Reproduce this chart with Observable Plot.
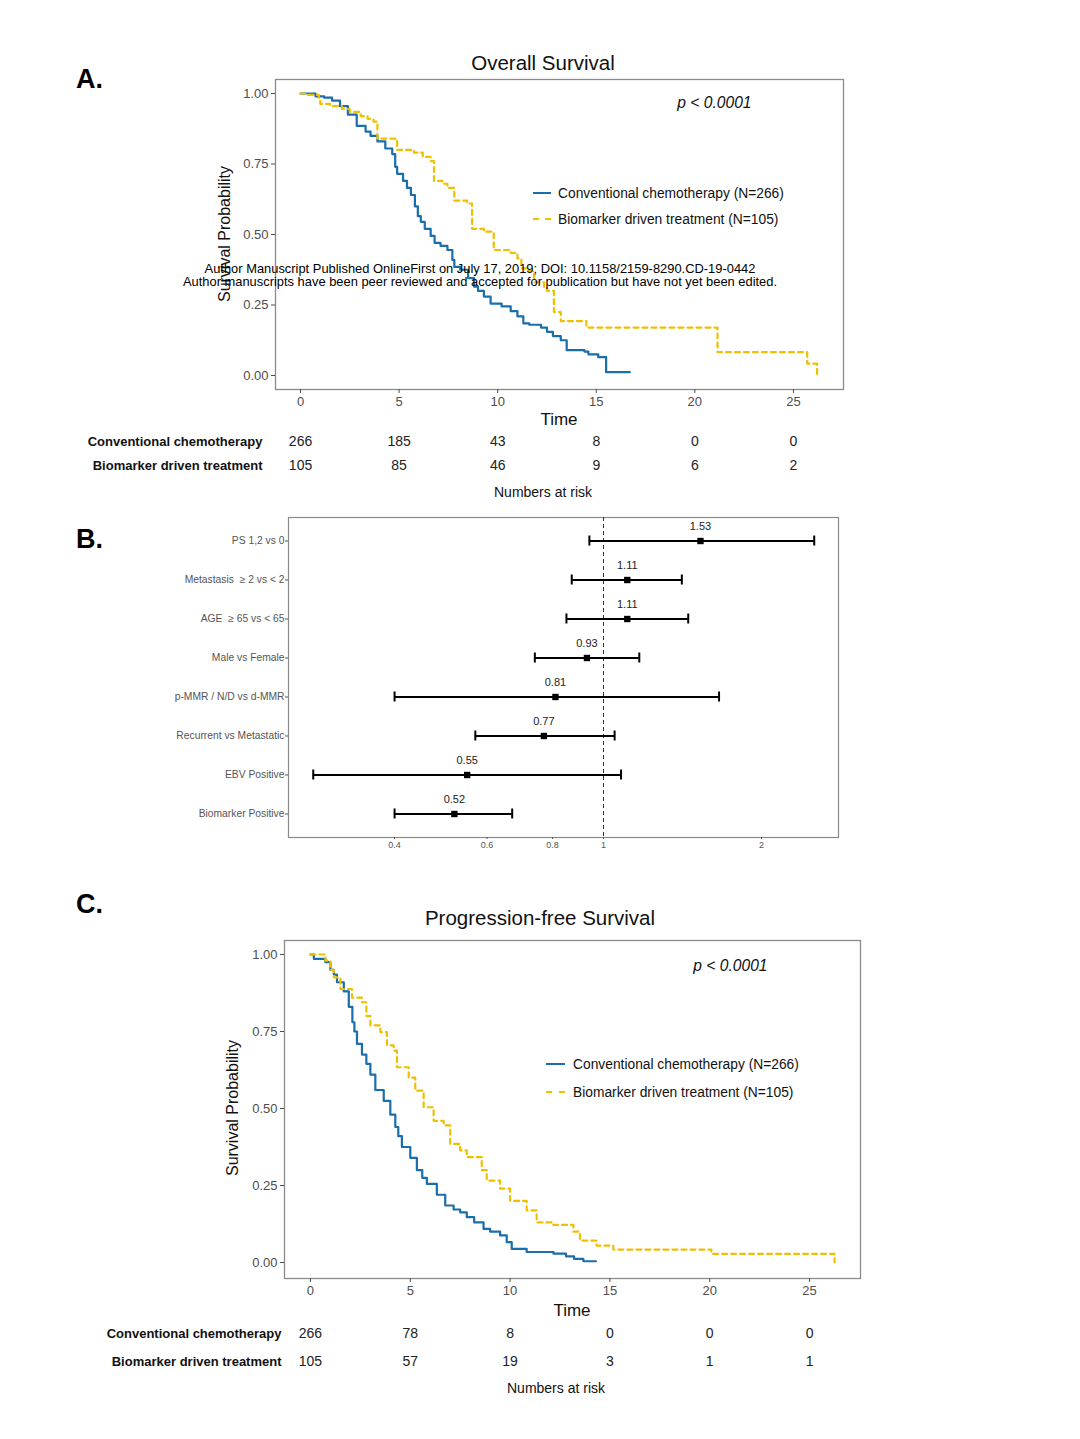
<!DOCTYPE html>
<html><head><meta charset="utf-8">
<script src="https://cdn.jsdelivr.net/npm/d3@7"></script>
<script src="https://cdn.jsdelivr.net/npm/@observablehq/plot@0.6"></script>
<style>
body{margin:0;background:#fff;}
#root{position:relative;width:1080px;height:1439px;font-family:"Liberation Sans",Arial,sans-serif;overflow:hidden;background:#fff;}
.abs{position:absolute;white-space:nowrap;line-height:1;}
.plot{position:absolute;left:0;}
</style></head><body><div id="root"></div>
<script>
// ---------- DATA ----------
const BLUE = "#1a6eaa", YELLOW = "#EFC000";
const groups = ["Conventional chemotherapy", "Biomarker driven treatment"];

// Overall survival (Kaplan-Meier step points)
const osConvTime = [0,0.76,1.2,1.6,2.0,2.4,2.85,3.3,3.55,3.9,4.3,4.65,4.8,4.9,5.2,5.4,5.6,5.8,5.95,6.1,6.3,6.6,6.8,7.1,7.45,7.7,7.8,8.1,8.5,8.8,9.0,9.3,9.64,10.2,10.66,11.0,11.3,11.6,12.2,12.5,12.8,13.2,13.5,14.4,14.6,15.1,15.5,16.7];
const osConvSurv = [1,0.99,0.985,0.975,0.955,0.925,0.885,0.865,0.85,0.83,0.805,0.785,0.74,0.715,0.69,0.665,0.64,0.60,0.565,0.545,0.52,0.495,0.47,0.46,0.445,0.41,0.385,0.375,0.345,0.315,0.30,0.28,0.255,0.245,0.228,0.21,0.185,0.18,0.17,0.155,0.14,0.125,0.09,0.085,0.075,0.065,0.012,0.012];
const osBioTime = [0,0.3,0.93,1.0,1.5,2.1,2.5,3.05,3.4,3.7,3.9,4.9,5.75,6.2,6.6,6.77,7.2,7.45,7.8,8.45,8.7,9.3,9.8,10.66,11.0,11.2,11.5,11.85,12.35,12.5,12.85,13.2,14.5,21.15,25.7,26.2];
const osBioSurv = [1,0.995,0.985,0.963,0.955,0.945,0.935,0.92,0.91,0.90,0.84,0.80,0.79,0.775,0.76,0.69,0.68,0.665,0.62,0.61,0.52,0.51,0.445,0.435,0.415,0.38,0.37,0.33,0.31,0.30,0.225,0.193,0.17,0.083,0.042,0.003];

// Progression-free survival
const pfsConvTime = [0,0.17,0.75,1.0,1.17,1.33,1.67,1.92,2.1,2.2,2.33,2.58,2.8,3.0,3.25,3.67,4.0,4.25,4.4,4.58,5.0,5.33,5.6,5.83,6.33,6.75,7.17,7.5,7.83,8.2,8.67,9.0,9.5,9.83,10.08,10.83,12.17,12.8,13.2,13.67,14.3];
const pfsConvSurv = [1,0.986,0.975,0.95,0.935,0.91,0.88,0.83,0.78,0.75,0.71,0.675,0.645,0.61,0.56,0.525,0.48,0.44,0.41,0.375,0.34,0.30,0.275,0.255,0.22,0.185,0.172,0.163,0.147,0.13,0.109,0.10,0.088,0.066,0.044,0.034,0.029,0.02,0.012,0.004,0.004];
const pfsBioTime = [0,0.75,1.0,1.17,1.5,2.08,2.58,2.8,3.0,3.5,3.83,4.17,4.33,4.92,5.25,5.67,6.17,6.67,7.0,7.5,7.83,8.58,8.83,9.5,10.0,10.83,11.33,12.17,13.17,13.5,14.33,15.17,20.08,26.25];
const pfsBioSurv = [1,0.98,0.95,0.926,0.888,0.86,0.845,0.80,0.77,0.748,0.705,0.688,0.634,0.60,0.558,0.504,0.46,0.445,0.385,0.364,0.342,0.30,0.266,0.24,0.20,0.169,0.13,0.122,0.10,0.071,0.055,0.042,0.028,0.0];

// Numbers at risk
const riskTimes = [0,5,10,15,20,25];
const osRiskConv = [266,185,43,8,0,0];
const osRiskBio = [105,85,46,9,6,2];
const pfsRiskConv = [266,78,8,0,0,0];
const pfsRiskBio = [105,57,19,3,1,1];

// Forest plot (hazard ratios)
const hrLabels = ["PS 1,2 vs 0","Metastasis  \u2265 2 vs < 2","AGE  \u2265 65 vs < 65","Male vs Female","p-MMR / N/D vs d-MMR","Recurrent vs Metastatic","EBV Positive","Biomarker Positive"];
const hrValues = [1.53,1.11,1.11,0.93,0.81,0.77,0.55,0.52];
const hrLower  = [0.94,0.87,0.85,0.74,0.40,0.57,0.28,0.40];
const hrUpper  = [2.52,1.41,1.45,1.17,1.66,1.05,1.08,0.67];
const hrTicks = [0.4,0.6,0.8,1,2];
const survTicks = [0,0.25,0.5,0.75,1];
const timeTicks = [0,5,10,15,20,25];

// ---------- HELPERS ----------
const root = document.getElementById("root");
function txt(s, x, y, o = {}) {
  const d = document.createElement("div");
  d.className = "abs";
  d.textContent = s;
  d.style.left = x + "px"; d.style.top = y + "px";
  d.style.fontSize = (o.size || 14) + "px";
  if (o.bold) d.style.fontWeight = "bold";
  if (o.italic) d.style.fontStyle = "italic";
  d.style.color = o.color || "#111";
  const ax = o.anchor === "start" ? "0" : o.anchor === "end" ? "-100%" : "-50%";
  d.style.transform = `translate(${ax},-50%)`;
  root.appendChild(d);
  return d;
}
function vtxt(s, cx, cy, size) {
  const d = document.createElement("div");
  d.className = "abs";
  d.textContent = s;
  d.style.fontSize = size + "px"; d.style.color = "#111";
  d.style.left = cx + "px"; d.style.top = cy + "px";
  d.style.transform = "translate(-50%,-50%) rotate(-90deg)";
  root.appendChild(d);
}
function legendLine(x1, x2, y, color, dashed) {
  const d = document.createElement("div");
  d.className = "abs";
  d.style.left = x1 + "px"; d.style.top = (y - 1) + "px";
  d.style.width = (x2 - x1) + "px"; d.style.height = "0";
  d.style.borderTop = `2px ${dashed ? "dashed" : "solid"} ${color}`;
  root.appendChild(d);
}
function place(svg, top) {
  svg.classList.add("plot");
  svg.style.top = top + "px";
  root.appendChild(svg);
}
const zip = (t, s, g) => t.map((v, i) => ({time: v, surv: s[i], group: g}));
const riskRows = (a, b) => riskTimes.flatMap((t, i) => [
  {time: t, group: groups[0], n: a[i]}, {time: t, group: groups[1], n: b[i]}]);

function survPlot(cfg) {
  return Plot.plot({
    width: 1080, height: cfg.height,
    marginLeft: cfg.mL, marginRight: cfg.mR, marginTop: cfg.mT, marginBottom: cfg.mB,
    style: {fontFamily: "Liberation Sans, Arial, sans-serif", background: "transparent"},
    x: {domain: cfg.xDomain},
    y: {domain: cfg.yDomain},
    marks: [
      Plot.line(zip(cfg.convT, cfg.convS, groups[0]), {x: "time", y: "surv", curve: "step-after", stroke: BLUE, strokeWidth: 2.2}),
      Plot.line(zip(cfg.bioT, cfg.bioS, groups[1]), {x: "time", y: "surv", curve: "step-after", stroke: YELLOW, strokeWidth: 2.2, strokeDasharray: "5,4"}),
      Plot.frame({stroke: "#8a8a8a", strokeWidth: 1.3}),
      Plot.axisY({ticks: survTicks, tickFormat: d3.format(".2f"), tickSize: 4, tickPadding: 3, label: null, fontSize: 13, color: "#4d4d4d"}),
      Plot.axisX({ticks: timeTicks, tickFormat: d => String(d), tickSize: 4, tickPadding: 3, label: null, fontSize: 13, color: "#4d4d4d"}),
      Plot.text(["p < 0.0001"], {frameAnchor: "top-right", dx: cfg.pdx, dy: cfg.pdy, lineAnchor: "middle", fontStyle: "italic", fontSize: 15.6, fill: "#111"})
    ]
  });
}
function riskPlot(cfg) {
  return Plot.plot({
    width: 1080, height: cfg.height,
    marginLeft: cfg.mL, marginRight: cfg.mR, marginTop: 0, marginBottom: 0,
    style: {fontFamily: "Liberation Sans, Arial, sans-serif", background: "transparent"},
    x: {domain: cfg.xDomain, axis: null},
    y: {type: "point", domain: groups, padding: 0.5, axis: null},
    marks: [
      Plot.axisY({tickSize: 0, tickPadding: cfg.pad, label: null, fontSize: 13, fontWeight: "bold", color: "#111"}),
      Plot.text(cfg.rows, {x: "time", y: "group", text: "n", fontSize: 14, fill: "#222"})
    ]
  });
}

// ---------- PANEL A ----------
txt("A.", 76, 79, {size: 27, bold: true, anchor: "start", color: "#000"});
txt("Overall Survival", 543, 63, {size: 20.5});
const xA = [-1.27, 27.54], yA = [-0.0496, 1.0496];
place(survPlot({height: 430, mL: 275, mR: 237, mT: 79, mB: 41, xDomain: xA, yDomain: yA,
  convT: osConvTime, convS: osConvSurv, bioT: osBioTime, bioS: osBioSurv, pdx: -92, pdy: 23}), 0);
vtxt("Survival Probability", 225, 234, 16);
txt("Time", 559, 419, {size: 17});
legendLine(533, 551, 193, BLUE, false);
txt("Conventional chemotherapy (N=266)", 558, 194, {size: 13.8, anchor: "start"});
legendLine(533, 551, 219, YELLOW, true);
txt("Biomarker driven treatment (N=105)", 558, 220, {size: 13.8, anchor: "start"});
txt("Author Manuscript Published OnlineFirst on July 17, 2019; DOI: 10.1158/2159-8290.CD-19-0442", 480, 269, {size: 12.9, color: "#000"});
txt("Author manuscripts have been peer reviewed and accepted for publication but have not yet been edited.", 480, 282, {size: 12.9, color: "#000"});
place(riskPlot({height: 48, mL: 275, mR: 237, xDomain: xA, pad: 13, rows: riskRows(osRiskConv, osRiskBio)}), 429);
txt("Numbers at risk", 543, 492, {size: 14});

// ---------- PANEL B ----------
txt("B.", 76, 539, {size: 27, bold: true, anchor: "start", color: "#000"});
const hr = hrLabels.map((l, i) => ({label: l, hr: hrValues[i], lo: hrLower[i], hi: hrUpper[i]}));
place(Plot.plot({
  width: 1080, height: 360,
  marginLeft: 288, marginRight: 242, marginTop: 17, marginBottom: 23,
  style: {fontFamily: "Liberation Sans, Arial, sans-serif", background: "transparent"},
  x: {type: "log", domain: [0.2512, 2.803]},
  y: {type: "band", domain: hrLabels, paddingInner: 0, paddingOuter: 0.103, round: false},
  marks: [
    Plot.frame({stroke: "#8a8a8a", strokeWidth: 1.2}),
    Plot.ruleX([1], {stroke: "#333", strokeDasharray: "4,3", strokeWidth: 1}),
    Plot.ruleY(hr, {y: "label", x1: "lo", x2: "hi", stroke: "#000", strokeWidth: 2}),
    Plot.tickX(hr, {x: "lo", y: "label", insetTop: 14.5, insetBottom: 14.5, stroke: "#000", strokeWidth: 2}),
    Plot.tickX(hr, {x: "hi", y: "label", insetTop: 14.5, insetBottom: 14.5, stroke: "#000", strokeWidth: 2}),
    Plot.dot(hr, {x: "hr", y: "label", symbol: "square", r: 3.6, fill: "#000", stroke: "none"}),
    Plot.text(hr, {x: "hr", y: "label", text: d => d.hr.toFixed(2), dy: -15, fontSize: 11, fill: "#222"}),
    Plot.axisX({ticks: hrTicks, tickFormat: d => String(d), tickSize: 2, tickPadding: 2, label: null, fontSize: 9, color: "#555"}),
    Plot.axisY({tickSize: 3, tickPadding: 1, label: null, fontSize: 10.3, color: "#555"})
  ]
}), 500);

// ---------- PANEL C ----------
txt("C.", 76, 904, {size: 27, bold: true, anchor: "start", color: "#000"});
txt("Progression-free Survival", 540, 918, {size: 20.5});
const xC = [-1.30, 27.55], yC = [-0.052, 1.0455];
place(survPlot({height: 420, mL: 284, mR: 220, mT: 40, mB: 42, xDomain: xC, yDomain: yC,
  convT: pfsConvTime, convS: pfsConvSurv, bioT: pfsBioTime, bioS: pfsBioSurv, pdx: -93, pdy: 25}), 900);
vtxt("Survival Probability", 233, 1108, 16);
txt("Time", 572, 1310, {size: 17});
legendLine(546, 565, 1064, BLUE, false);
txt("Conventional chemotherapy (N=266)", 573, 1065, {size: 13.8, anchor: "start"});
legendLine(546, 565, 1092, YELLOW, true);
txt("Biomarker driven treatment (N=105)", 573, 1093, {size: 13.8, anchor: "start"});
place(riskPlot({height: 56, mL: 284, mR: 220, xDomain: xC, pad: 3, rows: riskRows(pfsRiskConv, pfsRiskBio)}), 1319);
txt("Numbers at risk", 556, 1388, {size: 14});
</script></body></html>
